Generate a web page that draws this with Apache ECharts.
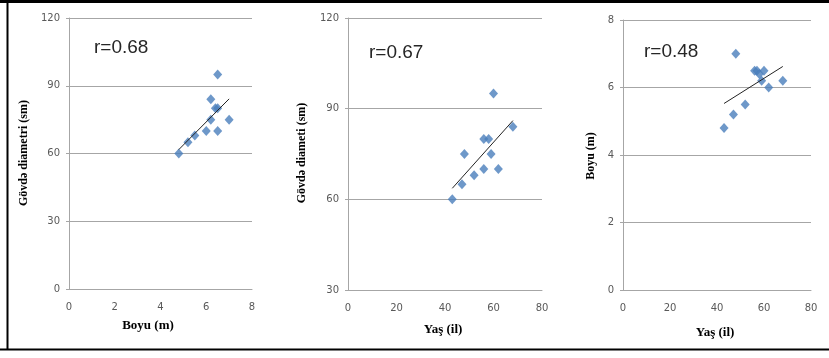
<!DOCTYPE html>
<html>
<head>
<meta charset="utf-8">
<script src="https://cdn.jsdelivr.net/npm/echarts@6/dist/echarts.min.js"></script>
<style>
  html, body { margin: 0; padding: 0; background: #fff; }
  #chart { width: 829px; height: 358px; }
</style>
</head>
<body>
<div id="chart"></div>
<script>
// panel 1: height (m) vs trunk diameter (sm)
var boyu1 = [4.8, 5.2, 5.5, 6.0, 6.2, 6.2, 6.5, 6.4, 6.5, 6.5, 7.0];
var diam1 = [60, 65, 68, 70, 84, 75, 95, 80, 80, 70, 75];
// panel 2: age (il) vs trunk diameter (sm)
var yas2 = [43, 47, 48, 52, 56, 56, 58, 59, 60, 62, 68];
var diam2 = [60, 65, 75, 68, 70, 80, 80, 75, 95, 70, 84];
// panel 3: age (il) vs height (m)
var yas3 = [43, 47, 48, 52, 56, 57, 58, 60, 59, 62, 68];
var boyu3 = [4.8, 5.2, 7.0, 5.5, 6.5, 6.5, 6.4, 6.5, 6.2, 6.0, 6.2];

var rLabels = ['r=0.68', 'r=0.67', 'r=0.48'];
var xTitles = ['Boyu (m)', 'Yaş (il)', 'Yaş (il)'];
var yTitles = ['Gövdə diametri (sm)', 'Gövdə diameti (sm)', 'Boyu (m)'];

function pairs(xs, ys) {
  return xs.map(function (x, i) { return [x, ys[i]]; });
}

// least squares trendline, drawn from min x to max x
function trend(xs, ys) {
  var n = xs.length, mx = 0, my = 0;
  for (var i = 0; i < n; i++) { mx += xs[i]; my += ys[i]; }
  mx /= n; my /= n;
  var sxy = 0, sxx = 0;
  for (var j = 0; j < n; j++) {
    sxy += (xs[j] - mx) * (ys[j] - my);
    sxx += (xs[j] - mx) * (xs[j] - mx);
  }
  var b = sxy / sxx, a = my - b * mx;
  var x0 = Math.min.apply(null, xs), x1 = Math.max.apply(null, xs);
  return [[x0, a + b * x0], [x1, a + b * x1]];
}

var gridCol = '#a6a6a6';
var labelStyle = { color: '#595959', fontSize: 10, fontFamily: 'DejaVu Sans' };

function xAx(idx, max, step) {
  return {
    gridIndex: idx, type: 'value', min: 0, max: max, interval: step,
    axisLine: { show: true, lineStyle: { color: gridCol } },
    axisTick: { show: false },
    splitLine: { show: false },
    axisLabel: Object.assign({ margin: 13 }, labelStyle)
  };
}
function yAx(idx, min, max, step) {
  return {
    gridIndex: idx, type: 'value', min: min, max: max, interval: step,
    axisLine: { show: true, lineStyle: { color: gridCol } },
    axisTick: { show: true, length: 3, lineStyle: { color: gridCol } },
    splitLine: { show: true, lineStyle: { color: gridCol } },
    axisLabel: Object.assign({ margin: 9 }, labelStyle)
  };
}
function pts(idx, data) {
  return {
    type: 'scatter', xAxisIndex: idx, yAxisIndex: idx, data: data,
    symbol: 'diamond', symbolSize: [9, 10],
    itemStyle: { color: '#4a7ebb' }, z: 3
  };
}
function line(idx, data) {
  return {
    type: 'line', xAxisIndex: idx, yAxisIndex: idx, data: data,
    showSymbol: false, lineStyle: { color: '#222', width: 1 }, z: 4
  };
}

var titleFont = { fontFamily: 'Liberation Serif', fontWeight: 'bold', fill: '#000' };
function txt(x, y, s, extra) {
  return { type: 'text', x: x, y: y,
    style: Object.assign({ text: s, align: 'center', verticalAlign: 'middle' }, titleFont, extra || {}) };
}
function ytxt(x, y, s) {
  var t = txt(x, y, s, { fontSize: 12 });
  t.rotation = Math.PI / 2;
  return t;
}
function rtxt(x, y, s, fam) {
  return { type: 'text', x: x, y: y,
    style: { text: s, align: 'left', verticalAlign: 'middle', fontSize: 19, fontFamily: fam, fill: '#262626' } };
}

var chart = echarts.init(document.getElementById('chart'));
var option = {
  animation: false,
  grid: [
    { left: 69, top: 18, width: 183, height: 271 },
    { left: 348, top: 18, width: 194, height: 272 },
    { left: 623, top: 20, width: 188, height: 270 }
  ],
  xAxis: [xAx(0, 8, 2), xAx(1, 80, 20), xAx(2, 80, 20)],
  yAxis: [yAx(0, 0, 120, 30), yAx(1, 30, 120, 30), yAx(2, 0, 8, 2)],
  series: [
    pts(0, pairs(boyu1, diam1)), line(0, trend(boyu1, diam1)),
    pts(1, pairs(yas2, diam2)), line(1, trend(yas2, diam2)),
    pts(2, pairs(yas3, boyu3)), line(2, trend(yas3, boyu3))
  ],
  graphic: [
    // frame
    { type: 'line', shape: { x1: 0, y1: 1.5, x2: 829, y2: 1.5 }, style: { stroke: '#000', lineWidth: 3 } },
    { type: 'line', shape: { x1: 7.5, y1: 0, x2: 7.5, y2: 350 }, style: { stroke: '#000', lineWidth: 2 } },
    { type: 'line', shape: { x1: 0, y1: 349.5, x2: 829, y2: 349.5 }, style: { stroke: '#000', lineWidth: 2 } },
    rtxt(94, 48, rLabels[0], 'Liberation Sans'),
    rtxt(369, 53, rLabels[1], '"Liberation Sans Narrow", "Liberation Sans"'),
    rtxt(644, 52, rLabels[2], '"Liberation Sans Narrow", "Liberation Sans"'),
    txt(148, 326, xTitles[0], { fontSize: 13 }),
    txt(443, 330, xTitles[1], { fontSize: 13 }),
    txt(715, 333, xTitles[2], { fontSize: 13 }),
    ytxt(24, 153, yTitles[0]),
    ytxt(302, 153, yTitles[1]),
    ytxt(591, 156, yTitles[2])
  ]
};
chart.setOption(option);
</script>
</body>
</html>
